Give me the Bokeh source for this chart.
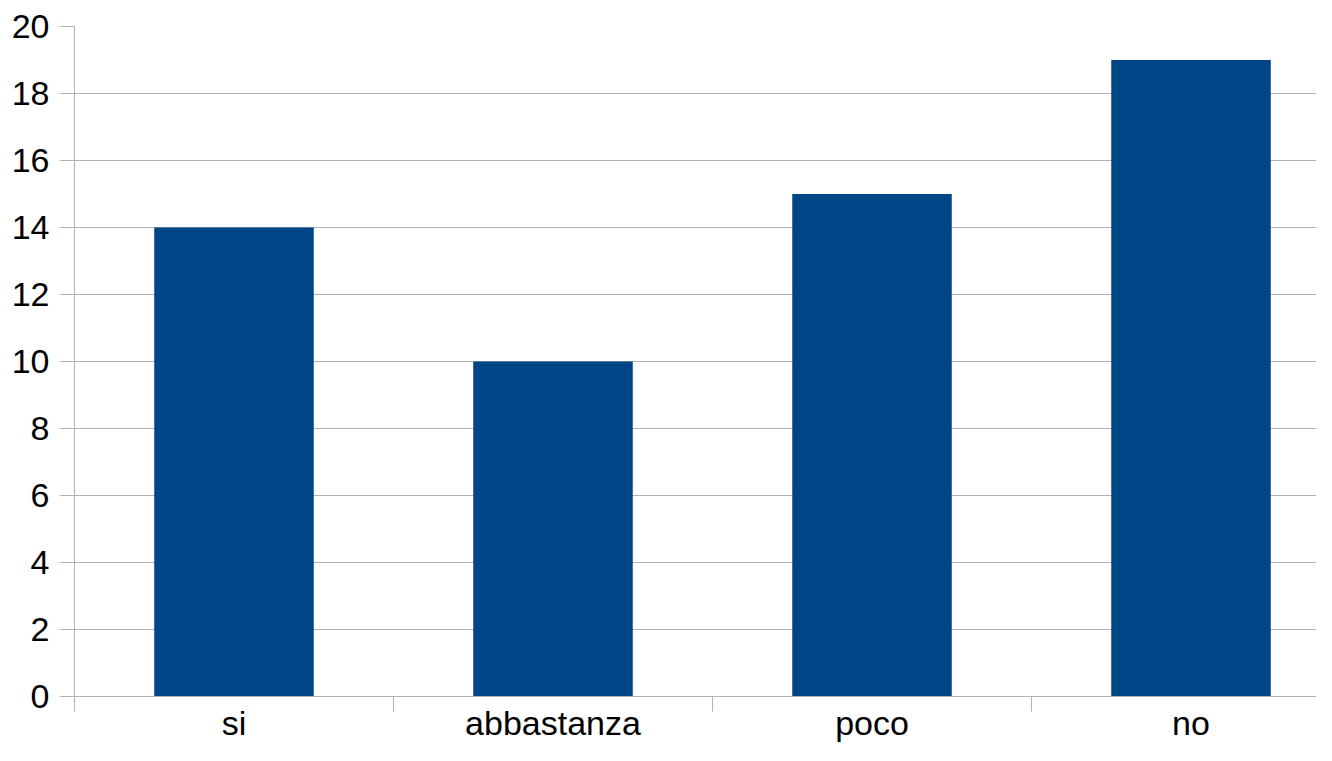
from bokeh.plotting import figure
from bokeh.models import Range1d, FixedTicker
from bokeh.embed import file_html
from bokeh.resources import INLINE

categories = ["si", "abbastanza", "poco", "no"]
values = [14, 10, 15, 19]
y_ticks = [0, 2, 4, 6, 8, 10, 12, 14, 16, 18, 20]

BAR = "#004586"
GRID = "#b3b3b3"
FONT = "Liberation Sans"

W, H = 1316, 745
left, top, bottom = 74, 26, 49
cat_px = 319.0
frame_w = W - left

x_pos = list(range(1, len(categories) + 1))

p = figure(width=W, height=H, output_backend="svg", toolbar_location=None,
           x_range=Range1d(0.5, 0.5 + frame_w / cat_px), y_range=Range1d(0, 20),
           min_border_left=left, min_border_top=top, min_border_bottom=bottom,
           min_border_right=0)
p.outline_line_color = None
p.background_fill_color = "white"
p.border_fill_color = "white"

p.vbar(x=x_pos, top=values, width=0.5, color=BAR, line_color=None)

# y axis
ya = p.yaxis[0]
ya.ticker = FixedTicker(ticks=y_ticks)
ya.axis_line_color = GRID
ya.major_tick_line_color = GRID
ya.major_tick_out = 15
ya.major_tick_in = 0
ya.minor_tick_line_color = None
ya.major_label_standoff = 10
ya.major_label_text_font = FONT
ya.major_label_text_font_size = "34px"
ya.major_label_text_color = "black"

# x axis
xa = p.xaxis[0]
xa.ticker = FixedTicker(ticks=x_pos, minor_ticks=[x - 0.5 for x in x_pos])
xa.major_label_overrides = {x: c for x, c in zip(x_pos, categories)}
xa.axis_line_color = GRID
xa.major_tick_line_color = None
xa.major_tick_out = 0
xa.major_tick_in = 0
xa.minor_tick_line_color = GRID
xa.minor_tick_out = 15
xa.minor_tick_in = 0
xa.major_label_standoff = -8
xa.major_label_text_font = FONT
xa.major_label_text_font_size = "34px"
xa.major_label_text_color = "black"

p.xgrid.grid_line_color = None
p.ygrid.grid_line_color = GRID
p.ygrid.ticker = FixedTicker(ticks=y_ticks)

open("out.html", "w").write(file_html(p, INLINE))
